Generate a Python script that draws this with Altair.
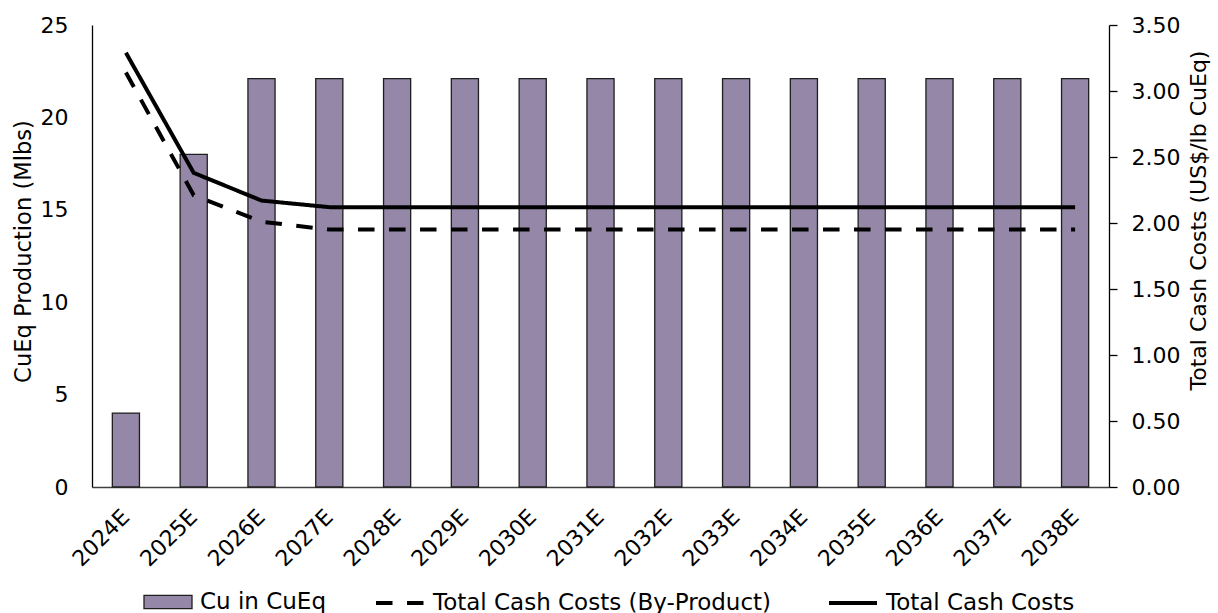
import altair as alt
import pandas as pd

# Forecast years on the category axis
years = ["2024E", "2025E", "2026E", "2027E", "2028E", "2029E", "2030E", "2031E",
         "2032E", "2033E", "2034E", "2035E", "2036E", "2037E", "2038E"]

# Copper-equivalent production, Mlbs (left axis)
cu_in_cueq = [4.0, 18.0, 22.1, 22.1, 22.1, 22.1, 22.1, 22.1,
              22.1, 22.1, 22.1, 22.1, 22.1, 22.1, 22.1]

# Cash costs, US$/lb CuEq (right axis)
total_cash_costs = [3.29, 2.38, 2.17, 2.12, 2.12, 2.12, 2.12, 2.12,
                    2.12, 2.12, 2.12, 2.12, 2.12, 2.12, 2.12]
total_cash_costs_byproduct = [3.14, 2.21, 2.01, 1.95, 1.95, 1.95, 1.95, 1.95,
                              1.95, 1.95, 1.95, 1.95, 1.95, 1.95, 1.95]

left_ticks = [0, 5, 10, 15, 20, 25]
right_ticks = [0.0, 0.5, 1.0, 1.5, 2.0, 2.5, 3.0, 3.5]

BAR_NAME = "Cu in CuEq"
BP_NAME = "Total Cash Costs (By-Product)"
TCC_NAME = "Total Cash Costs"

FONT = "DejaVu Sans"
BAR_FILL = "#9487A7"
OUTLINE = "#1f1f1f"

bars_df = pd.DataFrame({"year": years, "production": cu_in_cueq, "series": BAR_NAME})
lines_df = pd.concat([
    pd.DataFrame({"year": years, "cost": total_cash_costs_byproduct, "series": BP_NAME}),
    pd.DataFrame({"year": years, "cost": total_cash_costs, "series": TCC_NAME}),
], ignore_index=True)

x_enc = alt.X(
    "year:N",
    sort=years,
    title=None,
    scale=alt.Scale(paddingInner=0.6, paddingOuter=0.3),
    axis=alt.Axis(
        labelAngle=-45, labelAlign="right", labelBaseline="middle",
        labelPadding=26, ticks=False, tickSize=0,
        domainColor="#404040", domainWidth=1.5, grid=False,
    ),
)

bars = alt.Chart(bars_df).mark_bar(stroke=OUTLINE, strokeWidth=1.3).encode(
    x=x_enc,
    y=alt.Y(
        "production:Q",
        scale=alt.Scale(domain=[0, 25], nice=False),
        axis=alt.Axis(
            orient="left", values=left_ticks, title="CuEq Production (Mlbs)",
            ticks=False, tickSize=0, labelPadding=24, grid=False,
            domainColor="black", titleFontSize=22.6,
            titleX=-62, titleY=226, titleAngle=270,
            titleBaseline="alphabetic", titleAlign="center",
        ),
    ),
    fill=alt.Fill(
        "series:N",
        scale=alt.Scale(domain=[BAR_NAME], range=[BAR_FILL]),
        legend=alt.Legend(
            title=None, orient="none", legendX=51, legendY=552,
            symbolType="M-1,-0.28H1V0.28H-1Z", symbolSize=2304,
            symbolStrokeColor=OUTLINE, symbolStrokeWidth=1.3,
            labelFontSize=23, labelColor="black", labelOffset=7,
            labelLimit=600, padding=0,
        ),
    ),
)

lines = alt.Chart(lines_df).mark_line(color="black", strokeWidth=4).encode(
    x=x_enc,
    y=alt.Y(
        "cost:Q",
        scale=alt.Scale(domain=[0, 3.5], nice=False),
        axis=alt.Axis(
            orient="right", values=right_ticks, format=".2f",
            title="Total Cash Costs (US$/lb CuEq)",
            tickSize=8, tickColor="black", tickWidth=1.3,
            labelPadding=14, grid=False, domainColor="black",
            titleX=96, titleY=195, titleAngle=270,
            titleBaseline="alphabetic", titleAlign="center",
        ),
    ),
    strokeDash=alt.StrokeDash(
        "series:N",
        sort=[BP_NAME, TCC_NAME],
        scale=alt.Scale(domain=[BP_NAME, TCC_NAME], range=[[16.5, 14.5], [1, 0]]),
        legend=alt.Legend(
            title=None, orient="none", direction="horizontal",
            legendX=282, legendY=552,
            symbolType="M-1,0H1", symbolSize=2304,
            symbolStrokeColor="black", symbolStrokeWidth=4,
            labelFontSize=23, labelColor="black", labelOffset=7,
            labelLimit=600, columnPadding=49, padding=0,
        ),
    ),
)

chart = (
    alt.layer(bars, lines)
    .resolve_scale(y="independent")
    .properties(
        width=1017,
        height=462,
        background="white",
        autosize=alt.AutoSizeParams(type="none"),
        padding={"left": 92, "top": 25, "right": 109, "bottom": 126},
    )
    .configure_axis(
        labelFont=FONT, titleFont=FONT, labelFontSize=22, titleFontSize=22,
        titleFontWeight="normal", labelColor="black", titleColor="black",
        domainWidth=1.3,
    )
    .configure_legend(labelFont=FONT)
    .configure_view(stroke=None)
)

chart.save("out.html", embed_options={"renderer": "svg", "actions": False})
